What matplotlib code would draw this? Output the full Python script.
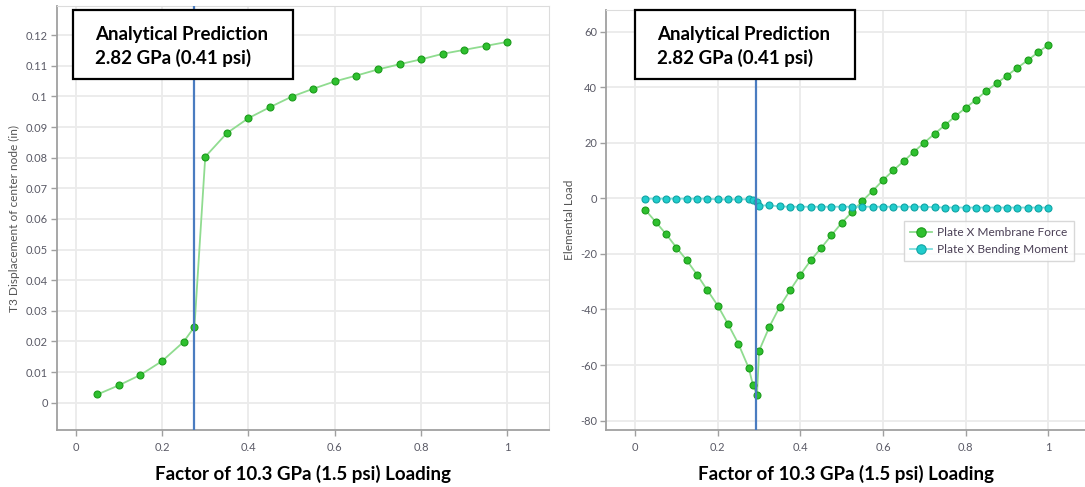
import matplotlib
matplotlib.use("Agg")
import matplotlib.pyplot as plt
from matplotlib.patches import Rectangle
from matplotlib.ticker import FuncFormatter, MultipleLocator

plt.rcParams['font.family'] = ['Lato', 'DejaVu Sans']

# ---------------- data ----------------
load_factor_left = [0.05, 0.1, 0.15, 0.2, 0.25, 0.275, 0.3, 0.35, 0.4, 0.45, 0.5,
                    0.55, 0.6, 0.65, 0.7, 0.75, 0.8, 0.85, 0.9, 0.95, 1.0]
t3_displacement = [0.0027, 0.0057, 0.0091, 0.0136, 0.0199, 0.0248, 0.0803, 0.0880,
                   0.0929, 0.0965, 0.0999, 0.1025, 0.1049, 0.1068, 0.1088, 0.1105,
                   0.1121, 0.1139, 0.1152, 0.1165, 0.1178]

load_factor_right = [0.025, 0.05, 0.075, 0.1, 0.125, 0.15, 0.175, 0.2, 0.225, 0.25,
                     0.275, 0.285, 0.295, 0.3, 0.325, 0.35, 0.375, 0.4, 0.425, 0.45,
                     0.475, 0.5, 0.525, 0.55, 0.575, 0.6, 0.625, 0.65, 0.675, 0.7,
                     0.725, 0.75, 0.775, 0.8, 0.825, 0.85, 0.875, 0.9, 0.925, 0.95,
                     0.975, 1.0]
membrane_force = [-4.2, -8.5, -12.9, -17.7, -22.3, -27.5, -33.1, -38.6, -45.3, -52.4,
                  -61.1, -67.1, -70.7, -54.9, -46.2, -39.0, -33.1, -27.5, -22.3, -17.9,
                  -13.3, -8.8, -4.9, -0.9, 2.7, 6.6, 10.1, 13.4, 16.8, 20.1,
                  23.3, 26.4, 29.6, 32.6, 35.5, 38.7, 41.4, 44.2, 47.0, 49.7,
                  52.6, 55.2]
bending_moment = [-0.1, -0.1, -0.1, -0.1, -0.1, -0.1, -0.1, -0.4, -0.4, -0.4,
                  -0.3, -0.5, -1.2, -2.6, -2.5, -2.9, -3.0, -3.0, -3.0, -3.0,
                  -3.0, -3.0, -3.0, -3.0, -3.0, -3.0, -3.0, -3.0, -3.0, -3.0,
                  -3.2, -3.3, -3.3, -3.3, -3.3, -3.3, -3.3, -3.3, -3.3, -3.3,
                  -3.3, -3.3]

prediction_left = 0.274
prediction_right = 0.2916

box_lines = ["Analytical Prediction", "2.82 GPa (0.41 psi)"]
xlabel = "Factor of 10.3 GPa (1.5 psi) Loading"
ylabel_left = "T3 Displacement of center node (in)"
ylabel_right = "Elemental Load"
legend_labels = ["Plate X Membrane Force", "Plate X Bending Moment"]

# ---------------- styles ----------------
GREEN_FACE = '#2ec02e'
GREEN_EDGE = '#1c9c1c'
GREEN_LINE = '#90dc90'
CYAN_FACE = '#20cccc'
CYAN_EDGE = '#12a5a5'
CYAN_LINE = '#80dede'
VLINE = '#4a7cc0'
TICK_COL = '#5a5a66'
SPINE_COL = '#a0a0a0'
LIGHT_SPINE = '#dcdcdc'
GRID_COL = '#ebebeb'

fig = plt.figure(figsize=(10.85, 4.87), dpi=100)
ax1 = fig.add_axes([0.0523, 0.117, 0.4536, 0.8706])
ax2 = fig.add_axes([0.5588, 0.117, 0.4412, 0.8624])

def fmt(v, pos):
    return '%g' % round(v, 6)

for ax in (ax1, ax2):
    ax.set_axisbelow(True)
    ax.grid(True, color=GRID_COL, linewidth=1.3)
    ax.tick_params(axis='both', direction='out', length=4, width=1,
                   color=SPINE_COL, labelsize=8, labelcolor=TICK_COL, pad=2.5)
    ax.tick_params(axis='x', pad=4.5)
    ax.spines['left'].set_color(SPINE_COL)
    ax.spines['bottom'].set_color(SPINE_COL)
    ax.spines['left'].set_linewidth(1.3)
    ax.spines['bottom'].set_linewidth(1.3)
    ax.spines['top'].set_color(LIGHT_SPINE)
    ax.spines['right'].set_color(LIGHT_SPINE)
    ax.xaxis.set_major_locator(MultipleLocator(0.2))
    ax.xaxis.set_major_formatter(FuncFormatter(fmt))
    ax.yaxis.set_major_formatter(FuncFormatter(fmt))
    ax.set_xlabel(xlabel, fontsize=13.5, fontweight='bold', color='black', labelpad=9)

ax2.spines['right'].set_visible(False)

MS = 5.0

# ---- left panel ----
ax1.plot(load_factor_left, t3_displacement, color=GREEN_LINE, linewidth=1.3,
         marker='o', markersize=MS, markerfacecolor=GREEN_FACE,
         markeredgecolor=GREEN_EDGE, markeredgewidth=0.8, zorder=3)
ax1.axvline(prediction_left, color=VLINE, linewidth=1.6, zorder=4)
ax1.set_xlim(-0.044, 1.096)
ax1.set_ylim(-0.0089, 0.1295)
ax1.yaxis.set_major_locator(MultipleLocator(0.01))
ax1.set_ylabel(ylabel_left, fontsize=8.6, color='#555555', labelpad=4)

# ---- right panel ----
ax2.plot(load_factor_right, membrane_force, color=GREEN_LINE, linewidth=1.3,
         marker='o', markersize=MS, markerfacecolor=GREEN_FACE,
         markeredgecolor=GREEN_EDGE, markeredgewidth=0.8, zorder=3,
         label=legend_labels[0])
ax2.plot(load_factor_right, bending_moment, color=CYAN_LINE, linewidth=1.3,
         marker='o', markersize=MS, markerfacecolor=CYAN_FACE,
         markeredgecolor=CYAN_EDGE, markeredgewidth=0.8, zorder=3,
         label=legend_labels[1])
ax2.axvline(prediction_right, color=VLINE, linewidth=1.6, zorder=4)
ax2.set_xlim(-0.0697, 1.0886)
ax2.set_ylim(-83.4, 67.8)
ax2.yaxis.set_major_locator(MultipleLocator(20))
ax2.set_ylabel(ylabel_right, fontsize=8.6, color='#555555', labelpad=4)

leg = ax2.legend(loc='upper left', bbox_to_anchor=(0.622, 0.498), fontsize=8.6,
                 frameon=True, fancybox=False, shadow=False, markerscale=1.35,
                 handlelength=1.8, borderpad=0.5, labelspacing=0.5,
                 handletextpad=0.5, borderaxespad=0)
leg.get_frame().set_edgecolor('#cfcfcf')
leg.get_frame().set_linewidth(1.0)
for t in leg.get_texts():
    t.set_color('#4a3f55')

# ---- annotation boxes ----
def add_box(ax, x0, y0, w, h, tx):
    rect = Rectangle((x0, y0), w, h, transform=ax.transAxes, facecolor='white',
                     edgecolor='black', linewidth=1.6, zorder=6, clip_on=False)
    ax.add_patch(rect)
    ax.text(tx, y0 + h * 0.65, box_lines[0], transform=ax.transAxes,
            fontsize=13.5, fontweight='bold', color='black', va='center',
            ha='left', zorder=7)
    ax.text(tx, y0 + h * 0.31, box_lines[1], transform=ax.transAxes,
            fontsize=13.5, fontweight='bold', color='black', va='center',
            ha='left', zorder=7)

add_box(ax1, 0.0335, 0.828, 0.4464, 0.1627, 0.0776)
add_box(ax2, 0.0604, 0.8357, 0.459, 0.164, 0.106)

fig.savefig('out.png', dpi=100)
